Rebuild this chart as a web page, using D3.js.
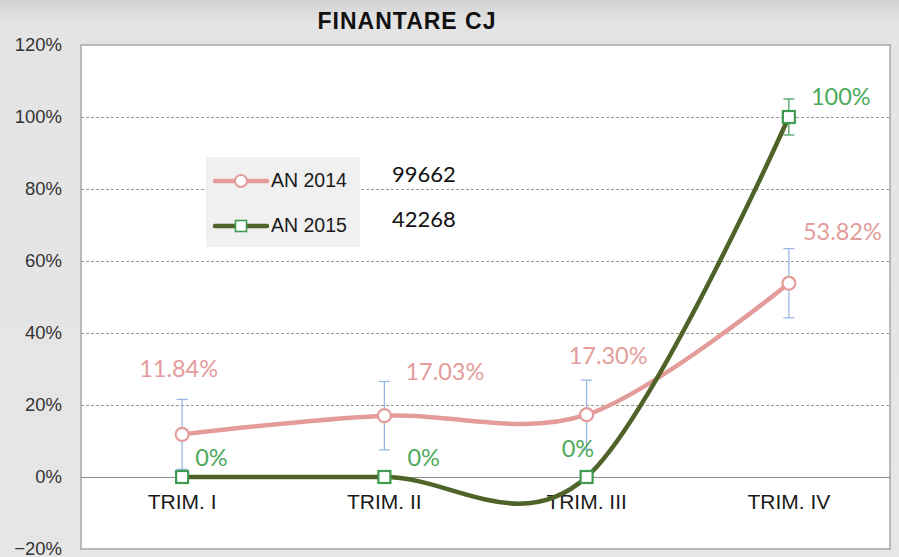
<!DOCTYPE html>
<html>
<head>
<meta charset="utf-8">
<script src="https://cdn.jsdelivr.net/npm/d3@7"></script>
<style>
  html, body { margin: 0; padding: 0; }
  body { width: 899px; height: 557px; overflow: hidden; background: #e6e6e6; }
</style>
</head>
<body>
<div id="chart"></div>
<script>
// Data
const categories = ["TRIM. I", "TRIM. II", "TRIM. III", "TRIM. IV"];
const values2014 = [0.1184, 0.1703, 0.1730, 0.5382];
const values2015 = [0, 0, 0, 1.0];
const labels2014 = ["11.84%", "17.03%", "17.30%", "53.82%"];
const labels2015 = ["0%", "0%", "0%", "100%"];
const errors2014 = [0.097, 0.095, 0.096, 0.096];
const errors2015 = [0, 0, 0, 0.05];
const yTicks = [-0.2, 0, 0.2, 0.4, 0.6, 0.8, 1.0, 1.2];
const legendNames = ["AN 2014", "AN 2015"];
const legendTotals = ["99662", "42268"];

const W = 899, H = 557;
const PINK = "#e39c9a", OLIVE = "#4f6228", GREEN_MK = "#3f9b4f", GREEN_TXT = "#4daa5c", BLUE = "#8eb4e3";

const svg = d3.select("#chart").append("svg").attr("width", W).attr("height", H)
  .style("font-family", "'Liberation Sans', Arial, sans-serif");

// background with a slight top gradient
const defs = svg.append("defs");
const grad = defs.append("linearGradient").attr("id", "bg").attr("x1", 0).attr("y1", 0).attr("x2", 0).attr("y2", 1);
grad.append("stop").attr("offset", 0).attr("stop-color", "#d2d2d2");
grad.append("stop").attr("offset", 0.04).attr("stop-color", "#e4e4e4");
grad.append("stop").attr("offset", 1).attr("stop-color", "#e6e6e6");
svg.append("rect").attr("width", W).attr("height", H).attr("fill", "url(#bg)");

// Scales
const x = d3.scaleBand().domain(categories).range([81, 890]);
const y = d3.scaleLinear().domain([-0.2, 1.2]).range([549, 45]);
const cx = (d) => x(d) + x.bandwidth() / 2;

// plot area
svg.append("rect").attr("x", 81).attr("y", 45).attr("width", 809).attr("height", 504)
  .attr("fill", "#fff").attr("stroke", "#a6a6a6").attr("stroke-width", 1.5);

// gridlines
svg.append("g").selectAll("line")
  .data(yTicks.filter((t) => t !== 0 && t !== -0.2 && t !== 1.2))
  .join("line")
  .attr("x1", 81).attr("x2", 890)
  .attr("y1", (d) => Math.round(y(d)) + 0.5).attr("y2", (d) => Math.round(y(d)) + 0.5)
  .attr("stroke", "#9a9a9a").attr("stroke-dasharray", "3,2");

// zero line
svg.append("line").attr("x1", 81).attr("x2", 890)
  .attr("y1", Math.round(y(0)) + 0.5).attr("y2", Math.round(y(0)) + 0.5)
  .attr("stroke", "#8c8c8c").attr("stroke-width", 1);

// y axis
const yAxis = svg.append("g").attr("transform", "translate(81,0)")
  .call(d3.axisLeft(y).tickValues(yTicks).tickFormat(d3.format(".0%")).tickSize(0).tickPadding(19));
yAxis.select(".domain").remove();
yAxis.selectAll("text").attr("font-size", 18.5).attr("fill", "#333")
  .attr("font-family", "'Liberation Sans', Arial, sans-serif");

// x axis labels
const xAxis = svg.append("g").attr("transform", `translate(0,${y(0)})`)
  .call(d3.axisBottom(x).tickSize(0).tickPadding(17));
xAxis.select(".domain").remove();
xAxis.selectAll("text").attr("font-size", 21).attr("fill", "#1a1a1a")
  .attr("font-family", "'Liberation Sans', Arial, sans-serif");

// title
svg.append("text").attr("x", 407).attr("y", 29).attr("text-anchor", "middle")
  .attr("font-size", 23).attr("font-weight", "bold").attr("letter-spacing", 1)
  .attr("fill", "#111").text("FINANTARE CJ");

// legend box
const legend = svg.append("g");
legend.append("rect").attr("x", 206).attr("y", 157).attr("width", 154).attr("height", 90).attr("fill", "#f0f0f0");

// error bars
function errorBars(values, errs, color) {
  const g = svg.append("g").attr("stroke", color).attr("stroke-width", 1.2);
  values.forEach((v, i) => {
    if (!errs[i]) return;
    const xc = cx(categories[i]);
    g.append("line").attr("x1", xc).attr("x2", xc).attr("y1", y(v + errs[i])).attr("y2", y(v - errs[i]));
    [v + errs[i], v - errs[i]].forEach((e) => {
      g.append("line").attr("x1", xc - 5.5).attr("x2", xc + 5.5).attr("y1", y(e)).attr("y2", y(e));
    });
  });
}
errorBars(values2014, errors2014, BLUE);
errorBars(values2015, errors2015, GREEN_MK);

// lines
const line = d3.line().x((d, i) => cx(categories[i])).y((d) => y(d)).curve(d3.curveCardinal.tension(0));
svg.append("path").datum(values2014).attr("d", line).attr("fill", "none")
  .attr("stroke", PINK).attr("stroke-width", 4.5).attr("stroke-linecap", "round");
svg.append("path").datum(values2015).attr("d", line).attr("fill", "none")
  .attr("stroke", OLIVE).attr("stroke-width", 4.5).attr("stroke-linecap", "round");

// markers
svg.append("g").selectAll("circle").data(values2014).join("circle")
  .attr("cx", (d, i) => cx(categories[i])).attr("cy", (d) => y(d)).attr("r", 6.5)
  .attr("fill", "#fff").attr("stroke", PINK).attr("stroke-width", 2.2);
svg.append("g").selectAll("rect").data(values2015).join("rect")
  .attr("x", (d, i) => cx(categories[i]) - 6).attr("y", (d) => y(d) - 6)
  .attr("width", 12).attr("height", 12)
  .attr("fill", "#fff").attr("stroke", GREEN_MK).attr("stroke-width", 2.2);

// data labels (offsets relative to the point, in px)
const off2014 = [[-43, -57], [21, -36], [-18, -51], [14, -43]];
const off2015 = [[13, -11], [23, -11], [-25, -20], [22, -12]];
const labelFont = "Lato, 'Open Sans', sans-serif";
svg.append("g").selectAll("text").data(values2014).join("text")
  .attr("x", (d, i) => cx(categories[i]) + off2014[i][0])
  .attr("y", (d, i) => y(d) + off2014[i][1])
  .attr("font-family", labelFont).attr("font-size", 23.5).attr("fill", PINK)
  .text((d, i) => labels2014[i]);
svg.append("g").selectAll("text").data(values2015).join("text")
  .attr("x", (d, i) => cx(categories[i]) + off2015[i][0])
  .attr("y", (d, i) => y(d) + off2015[i][1])
  .attr("font-family", labelFont).attr("font-size", 23.5).attr("fill", GREEN_TXT)
  .text((d, i) => labels2015[i]);

// legend entries
const legendColors = [PINK, OLIVE];
legendNames.forEach((name, i) => {
  const ly = 181 + i * 45;
  legend.append("line").attr("x1", 215).attr("x2", 267).attr("y1", ly).attr("y2", ly)
    .attr("stroke", legendColors[i]).attr("stroke-width", 4.5).attr("stroke-linecap", "round");
  if (i === 0) {
    legend.append("circle").attr("cx", 241).attr("cy", ly).attr("r", 6)
      .attr("fill", "#fff").attr("stroke", PINK).attr("stroke-width", 2);
  } else {
    legend.append("rect").attr("x", 235.5).attr("y", ly - 5.5).attr("width", 11).attr("height", 11)
      .attr("fill", "#fff").attr("stroke", GREEN_MK).attr("stroke-width", 1.6);
  }
  legend.append("text").attr("x", 271).attr("y", ly + 6).attr("font-size", 19.5).attr("fill", "#1a1a1a")
    .text(name);
  legend.append("text").attr("x", 392).attr("y", ly + 1)
    .attr("font-family", labelFont).attr("font-size", 22).attr("fill", "#111")
    .text(legendTotals[i]);
});
</script>
</body>
</html>
